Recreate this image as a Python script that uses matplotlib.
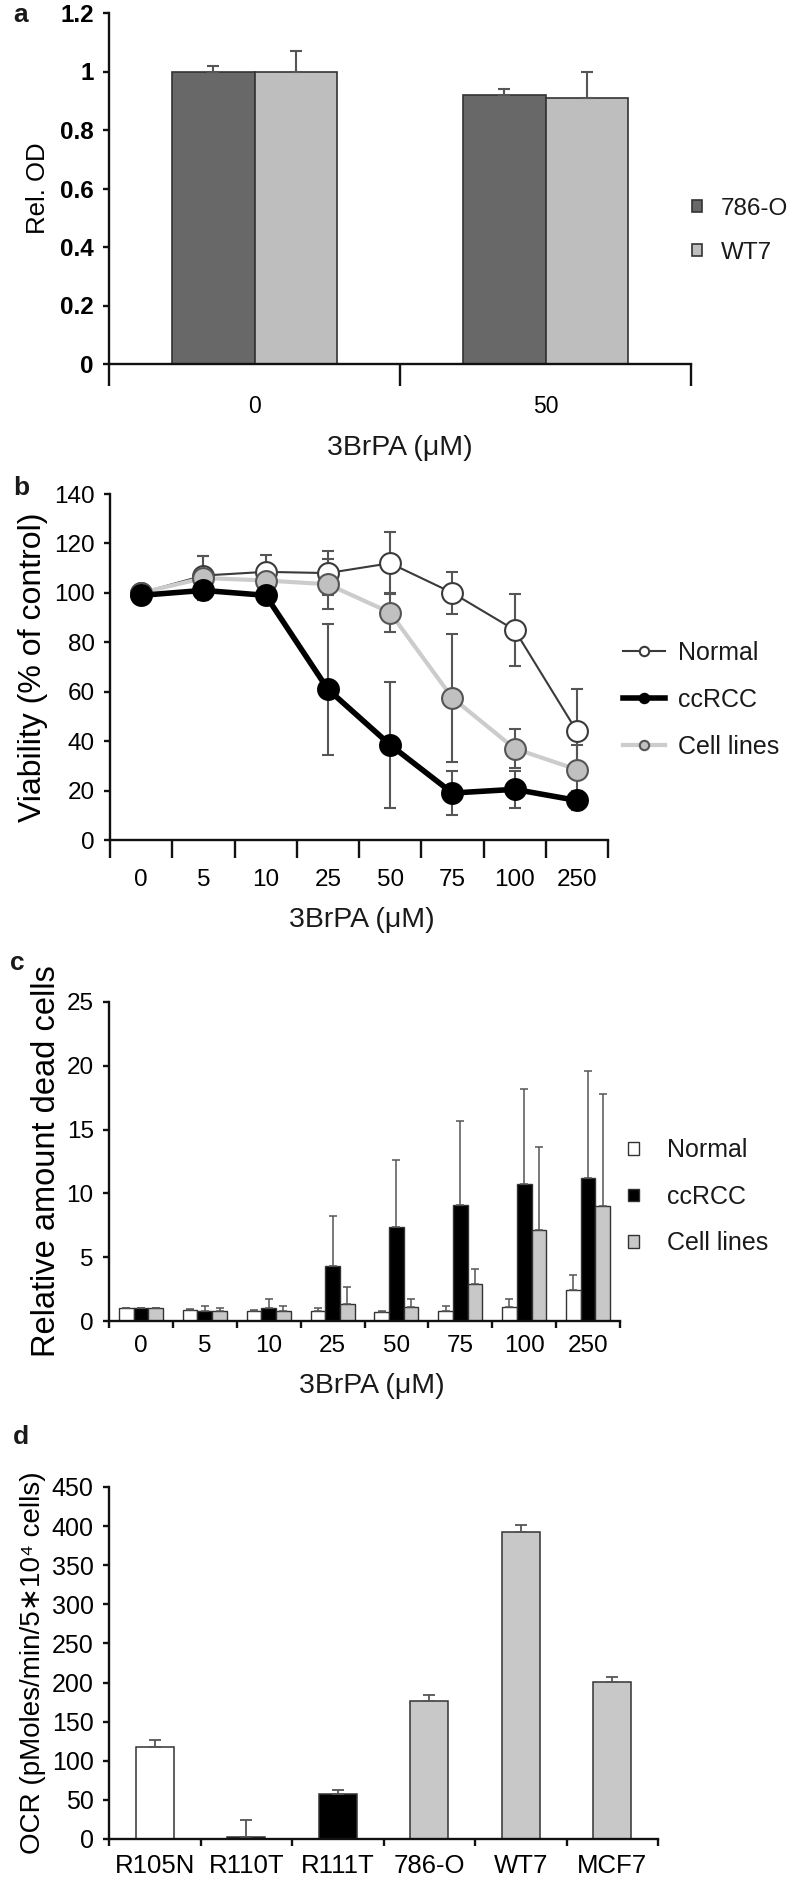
import matplotlib.pyplot as plt
import numpy as np

plt.rcParams['font.family'] = ['Liberation Sans', 'DejaVu Sans']
plt.rcParams['text.color'] = '#1a1a1a'

# ---- data ----
# panel a
a_labels = ['0', '50']
od_786 = [1.0, 0.92]
od_786_err = [0.02, 0.02]
od_wt7 = [1.0, 0.91]
od_wt7_err = [0.07, 0.09]

# panel b / c doses
doses = ['0', '5', '10', '25', '50', '75', '100', '250']

# panel b viability
normal_b = [100, 107, 108.5, 108, 112, 100, 85, 44]
normal_b_err = [1, 8, 7, 9, 12.5, 8.5, 14.5, 17]
ccrcc_b = [99, 101, 99, 61, 38.5, 19, 20.5, 16]
ccrcc_b_err = [1, 2, 2, 26.5, 25.5, 9, 7.5, 4]
cell_b = [100, 106, 105, 103.5, 92, 57.5, 37, 28.5]
cell_b_err = [1, 9, 6, 10, 8, 26, 8, 10]

# panel c dead cells
normal_c = [1.0, 0.85, 0.8, 0.8, 0.7, 0.75, 1.1, 2.4]
normal_c_err = [0.05, 0.1, 0.1, 0.2, 0.05, 0.4, 0.6, 1.2]
ccrcc_c = [1.0, 0.75, 1.0, 4.3, 7.4, 9.1, 10.7, 11.2]
ccrcc_c_err = [0.05, 0.4, 0.75, 3.9, 5.2, 6.6, 7.5, 8.4]
cell_c = [1.0, 0.8, 0.8, 1.3, 1.1, 2.9, 7.1, 9.0]
cell_c_err = [0.05, 0.25, 0.35, 1.35, 0.6, 1.2, 6.5, 8.8]

# panel d OCR
d_labels = ['R105N', 'R110T', 'R111T', '786-O', 'WT7', 'MCF7']
d_vals = [118, 2, 57, 177, 392, 201]
d_err = [8, 22, 6, 7, 10, 6]
d_colors = ['white', 'black', 'black', '#c8c8c8', '#c8c8c8', '#c8c8c8']

W, H = 794, 1882
fig = plt.figure(figsize=(W / 100, H / 100), dpi=100)


def px_axes(left, right, top, bottom):
    return fig.add_axes([left / W, 1 - bottom / H, (right - left) / W, (bottom - top) / H])


def style(ax, n, tick_len, pad, fs):
    for s in ['top', 'right']:
        ax.spines[s].set_visible(False)
    for s in ['left', 'bottom']:
        ax.spines[s].set_linewidth(1.7)
        ax.spines[s].set_color('#111111')
    ax.set_xlim(-0.5, n - 0.5)
    ax.set_xticks(np.arange(n))
    ax.set_xticks(np.arange(n + 1) - 0.5, minor=True)
    ax.tick_params(axis='x', which='major', length=0, pad=pad, labelsize=fs)
    ax.tick_params(axis='x', which='minor', length=tick_len, width=1.7, direction='out', color='#111111')
    ax.tick_params(axis='y', length=4, width=1.7, direction='out', pad=7, labelsize=fs, color='#111111')


edge = '#333333'
ecol = '#555555'

# ---- panel a ----
ax = px_axes(109, 691, 13, 364)
x = np.arange(len(a_labels))
bw = 0.285
ekw = dict(ecolor=ecol, elinewidth=1.5, capsize=4, capthick=1.5)
ax.bar(x - bw / 2, od_786, bw, color='#686868', edgecolor=edge, linewidth=1.2, label='786-O',
       yerr=[[0, 0], od_786_err], error_kw=ekw)
ax.bar(x + bw / 2, od_wt7, bw, color='#bebebe', edgecolor=edge, linewidth=1.2, label='WT7',
       yerr=[[0, 0], od_wt7_err], error_kw=ekw)
style(ax, len(a_labels), 16, 22, 16.5)
ax.set_xticklabels(a_labels)
ax.set_ylim(0, 1.2)
ax.set_yticks([0, 0.2, 0.4, 0.6, 0.8, 1.0, 1.2])
ax.set_yticklabels(['0', '0.2', '0.4', '0.6', '0.8', '1', '1.2'], fontweight='bold', fontsize=17.5)
ax.set_ylabel('Rel. OD', fontsize=18.5, labelpad=7)
ax.legend(loc='center left', bbox_to_anchor=(583 / 582, 0.38), frameon=False, fontsize=17.5,
          handlelength=0.42, handleheight=0.42, handletextpad=0.75, labelspacing=0.9,
          borderpad=0, borderaxespad=0)
fig.text(400 / W, 1 - 448 / H, '3BrPA (μM)', ha='center', va='center', fontsize=20.5)
fig.text(13 / W, 1 - 15 / H, 'a', ha='left', va='center', fontsize=19, fontweight='bold')

# ---- panel b ----
ax = px_axes(110, 608, 494, 840)
x = np.arange(len(doses))
for vals, errs in [(normal_b, normal_b_err), (cell_b, cell_b_err), (ccrcc_b, ccrcc_b_err)]:
    ax.errorbar(x, vals, yerr=errs, fmt='none', ecolor=ecol, elinewidth=1.5, capsize=4, capthick=1.5, zorder=3)
ax.plot(x, normal_b, color='#3a3a3a', lw=1.5, marker='o', ms=15, mfc='white', mec='#3a3a3a', mew=1.5,
        label='Normal', zorder=4)
ax.plot(x, ccrcc_b, color='black', lw=4, marker='o', ms=15, mfc='black', mec='black', mew=1.5,
        label='ccRCC', zorder=5)
ax.plot(x, cell_b, color='#cccccc', lw=3, marker='o', ms=15, mfc='#c0c0c0', mec='#555555', mew=1.5,
        label='Cell lines', zorder=4)
style(ax, len(doses), 13, 21, 17.5)
ax.set_xticklabels(doses)
ax.set_ylim(0, 140)
ax.set_yticks(range(0, 141, 20))
ax.set_ylabel('Viability (% of control)', fontsize=23, labelpad=4)
ax.legend(loc='center left', bbox_to_anchor=((623 - 110) / 498, 0.405), frameon=False, fontsize=18,
          markerscale=0.45, handlelength=1.68, handletextpad=0.52, labelspacing=0.92,
          borderpad=0, borderaxespad=0)
fig.text(362 / W, 1 - 920 / H, '3BrPA (μM)', ha='center', va='center', fontsize=20.5)
fig.text(13 / W, 1 - 488 / H, 'b', ha='left', va='center', fontsize=19, fontweight='bold')

# ---- panel c ----
ax = px_axes(109, 620, 1002, 1321)
bw = 0.23
ekw = dict(ecolor=ecol, elinewidth=1.1, capsize=3, capthick=1.1)
zeros = [0] * len(doses)
ax.bar(x - bw, normal_c, bw, color='white', edgecolor=edge, linewidth=1, label='Normal',
       yerr=[zeros, normal_c_err], error_kw=ekw)
ax.bar(x, ccrcc_c, bw, color='black', edgecolor=edge, linewidth=1, label='ccRCC',
       yerr=[zeros, ccrcc_c_err], error_kw=ekw)
ax.bar(x + bw, cell_c, bw, color='#c8c8c8', edgecolor=edge, linewidth=1, label='Cell lines',
       yerr=[zeros, cell_c_err], error_kw=ekw)
style(ax, len(doses), 5, 10, 17.5)
ax.set_xticklabels(doses)
ax.set_ylim(0, 25)
ax.set_yticks(range(0, 26, 5))
ax.set_ylabel('Relative amount dead cells', fontsize=23.5, labelpad=3)
ax.legend(loc='center left', bbox_to_anchor=((628 - 109) / 511, 0.389), frameon=False, fontsize=18,
          handlelength=0.42, handleheight=0.42, handletextpad=1.15, labelspacing=0.9,
          borderpad=0, borderaxespad=0)
fig.text(372 / W, 1 - 1386 / H, '3BrPA (μM)', ha='center', va='center', fontsize=20.5)
fig.text(10 / W, 1 - 963 / H, 'c', ha='left', va='center', fontsize=19, fontweight='bold')

# ---- panel d ----
ax = px_axes(109, 658, 1487, 1839)
x = np.arange(len(d_labels))
ax.bar(x, d_vals, 0.41, color=d_colors, edgecolor=edge, linewidth=1.1,
       yerr=[[0] * len(d_vals), d_err], error_kw=dict(ecolor=ecol, elinewidth=1.3, capsize=4, capthick=1.3))
style(ax, len(d_labels), 5, 11, 18.5)
ax.tick_params(axis='y', labelsize=18)
ax.set_xticklabels(d_labels)
ax.set_ylim(0, 450)
ax.set_yticks(range(0, 451, 50))
ax.set_ylabel('OCR (pMoles/min/5∗10⁴ cells)', fontsize=20, labelpad=4)
fig.text(13 / W, 1 - 1437 / H, 'd', ha='left', va='center', fontsize=19, fontweight='bold')

fig.savefig('out.png', dpi=100)
